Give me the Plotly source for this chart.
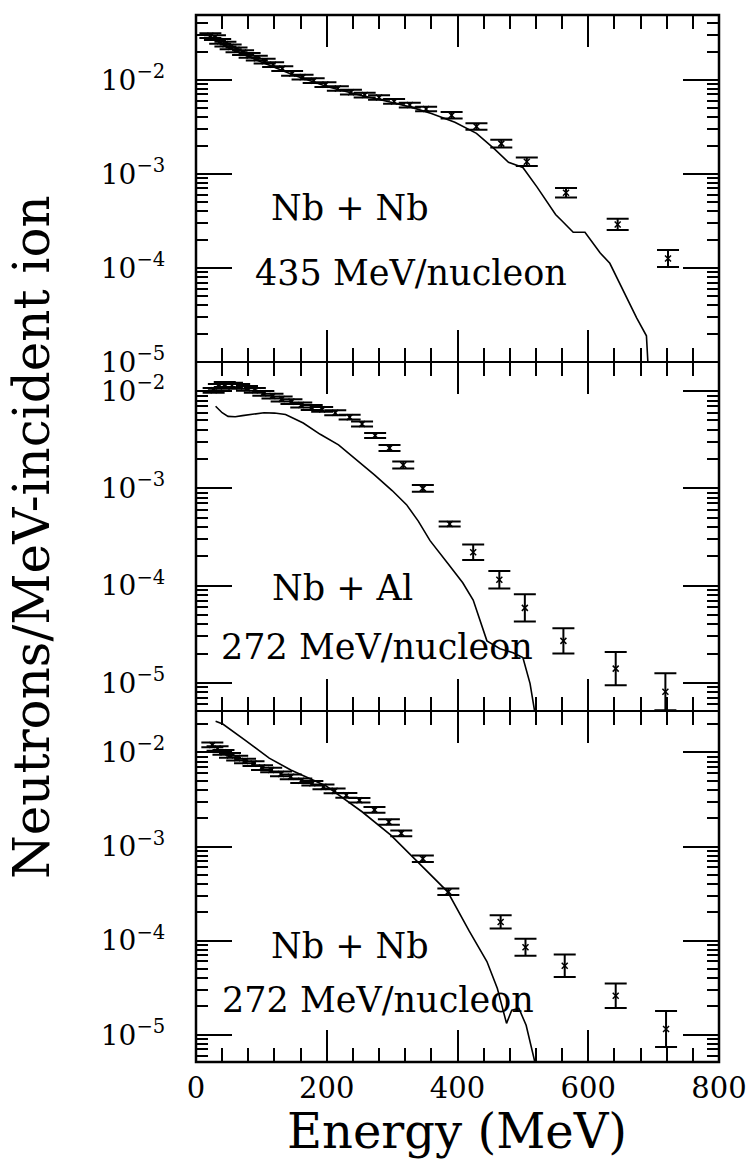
import plotly.graph_objects as go
from plotly.subplots import make_subplots

# ---------------- data ----------------
# Panel 1: Nb + Nb, 435 MeV/nucleon
p1_energy = [22, 29, 37, 45, 53, 62, 72, 82, 93, 105, 118, 132, 147, 163, 180, 198, 217, 237,
             258, 280, 303, 327, 352, 391, 429, 467, 506, 566, 645, 722]
p1_yield = [2.95e-2, 2.82e-2, 2.57e-2, 2.40e-2, 2.24e-2, 2.09e-2, 1.95e-2, 1.82e-2, 1.70e-2,
            1.58e-2, 1.45e-2, 1.32e-2, 1.17e-2, 1.07e-2, 9.8e-3, 8.9e-3, 8.1e-3, 7.4e-3,
            6.9e-3, 6.5e-3, 5.9e-3, 5.4e-3, 4.9e-3, 4.2e-3, 3.2e-3, 2.1e-3, 1.35e-3,
            6.3e-4, 2.9e-4, 1.26e-4]
p1_err_dex = [0.025] * 23 + [0.035, 0.035, 0.04, 0.045, 0.05, 0.06, 0.09]
p1_calc_energy = [40, 60, 100, 150, 200, 250, 300, 330, 360, 396, 429, 456, 478, 500, 522,
                  550, 560, 577, 595, 618, 633, 653, 674, 689, 692]
p1_calc_yield = [2.4e-2, 2.04e-2, 1.55e-2, 1.12e-2, 8.5e-3, 6.9e-3, 5.75e-3, 5.1e-3, 4.4e-3,
                 3.55e-3, 2.7e-3, 1.86e-3, 1.33e-3, 1.17e-3, 7.2e-4, 3.7e-4, 3.16e-4, 2.4e-4,
                 2.4e-4, 1.45e-4, 1.12e-4, 5.75e-5, 2.95e-5, 1.9e-5, 7.9e-6]

# Panel 2: Nb + Al, 272 MeV/nucleon
p2_energy = [27, 35, 44, 55, 66, 78, 90, 103, 117, 131, 146, 161, 177, 193, 213, 235, 254,
             274, 296, 317, 347, 388, 424, 464, 503, 562, 642, 718]
p2_yield = [1.02e-2, 1.12e-2, 1.17e-2, 1.15e-2, 1.12e-2, 1.07e-2, 1.02e-2, 9.5e-3, 8.9e-3,
            8.3e-3, 7.8e-3, 7.2e-3, 6.8e-3, 6.5e-3, 6.0e-3, 5.4e-3, 4.6e-3, 3.5e-3, 2.6e-3,
            1.74e-3, 1.0e-3, 4.3e-4, 2.2e-4, 1.15e-4, 5.9e-5, 2.7e-5, 1.4e-5, 8.1e-6]
p2_err_dex = [0.025] * 18 + [0.03, 0.035, 0.035, 0.025, 0.08, 0.09, 0.14, 0.13, 0.17, 0.19]
p2_calc_energy = [30, 40, 49, 60, 71, 85, 104, 120, 137, 164, 190, 218, 245, 273, 300, 322,
                  340, 358, 385, 408, 424, 445, 465, 485, 500, 511, 518, 521]
p2_calc_yield = [7.0e-3, 6.0e-3, 5.5e-3, 5.45e-3, 5.6e-3, 5.8e-3, 6.0e-3, 5.95e-3, 5.75e-3,
                 4.7e-3, 3.6e-3, 2.8e-3, 2.0e-3, 1.38e-3, 9.5e-4, 6.8e-4, 4.6e-4, 2.9e-4,
                 1.7e-4, 1.07e-4, 7.1e-5, 2.7e-5, 2.24e-5, 2.04e-5, 1.82e-5, 9.8e-6, 5.1e-6,
                 4.0e-6]

# Panel 3: Nb + Nb, 272 MeV/nucleon
p3_energy = [25, 33, 42, 52, 63, 75, 88, 101, 115, 130, 145, 161, 178, 195, 212, 230, 250,
             273, 295, 314, 347, 386, 466, 504, 564, 642, 719]
p3_yield = [1.20e-2, 1.10e-2, 1.00e-2, 9.3e-3, 8.7e-3, 8.1e-3, 7.6e-3, 6.9e-3, 6.5e-3, 5.9e-3,
            5.5e-3, 5.0e-3, 4.7e-3, 4.3e-3, 3.9e-3, 3.5e-3, 3.1e-3, 2.45e-3, 1.82e-3,
            1.38e-3, 7.4e-4, 3.3e-4, 1.58e-4, 8.5e-5, 5.4e-5, 2.6e-5, 1.15e-5]
p3_err_dex = [0.025] * 17 + [0.03, 0.03, 0.03, 0.035, 0.035, 0.07, 0.09, 0.12, 0.13, 0.19]
p3_calc_energy = [30, 41, 75, 112, 145, 199, 254, 298, 336, 385, 418, 445, 461, 470, 475, 483,
                  494, 505, 519, 522]
p3_calc_yield = [2.14e-2, 2.0e-2, 1.35e-2, 8.7e-3, 6.5e-3, 4.4e-3, 2.34e-3, 1.32e-3, 7.2e-4,
                 3.3e-4, 1.26e-4, 6.0e-5, 3.1e-5, 1.74e-5, 1.32e-5, 1.82e-5, 1.9e-5, 1.26e-5,
                 5.2e-6, 4.0e-6]

panel_system = ["Nb + Nb", "Nb + Al", "Nb + Nb"]
panel_beam = ["435 MeV/nucleon", "272 MeV/nucleon", "272 MeV/nucleon"]
y_log_ranges = [[-5.0, -1.31], [-5.29, -1.70], [-5.29, -1.56]]

y_tick_vals = [1e-5, 1e-4, 1e-3, 1e-2]
y_tick_text = ["10<sup>\u22125</sup>", "10<sup>\u22124</sup>", "10<sup>\u22123</sup>",
               "10<sup>\u22122</sup>"]
y_minor_vals = [m * 10.0 ** e for e in range(-6, -1) for m in range(2, 10)]

x_title = "Energy (MeV)"
y_title = "Neutrons/MeV-incident ion"

# ---------------- figure ----------------
FONT = "DejaVu Serif"
W, H = 747, 1161
L, R, T, B = 196, 28, 15, 99
plot_h = H - T - B
bounds_px = [15, 362, 711, 1062]


def py(ypix):
    return (H - B - ypix) / plot_h


def px(xpix):
    return (xpix - L) / (W - L - R)


fig = make_subplots(rows=3, cols=1, shared_xaxes=True, vertical_spacing=0)

panels = [
    (p1_energy, p1_yield, p1_err_dex, p1_calc_energy, p1_calc_yield),
    (p2_energy, p2_yield, p2_err_dex, p2_calc_energy, p2_calc_yield),
    (p3_energy, p3_yield, p3_err_dex, p3_calc_energy, p3_calc_yield),
]

for i, (e, y, d, ce, cy) in enumerate(panels):
    row = i + 1
    fig.add_trace(go.Scatter(x=ce, y=cy, mode="lines",
                             line=dict(color="black", width=1.6),
                             showlegend=False), row=row, col=1)
    plus = [v * (10 ** dd - 1) for v, dd in zip(y, d)]
    minus = [v * (1 - 10 ** (-dd)) for v, dd in zip(y, d)]
    fig.add_trace(go.Scatter(x=e, y=y, mode="markers",
                             marker=dict(symbol="x-thin", size=6, color="black",
                                         line=dict(color="black", width=1.5)),
                             error_y=dict(type="data", array=plus, arrayminus=minus,
                                          color="black", thickness=2, width=11),
                             showlegend=False), row=row, col=1)

for i in range(3):
    row = i + 1
    top = py(bounds_px[i])
    bot = py(bounds_px[i + 1])
    fig.update_yaxes(row=row, col=1, type="log", range=y_log_ranges[i],
                     domain=[max(bot, 0), min(top, 1)],
                     tickmode="array", tickvals=y_tick_vals, ticktext=y_tick_text,
                     ticks="inside", ticklen=36, tickwidth=2, tickcolor="black",
                     minor=dict(tickmode="array", tickvals=y_minor_vals, ticks="inside",
                                ticklen=12, tickwidth=2, tickcolor="black"),
                     mirror="allticks", showline=True, linewidth=1.2, linecolor="black",
                     showgrid=False, zeroline=False,
                     tickfont=dict(family=FONT, size=28, color="black"),
                     ticklabelstandoff=24)
    fig.update_xaxes(row=row, col=1, range=[0, 800],
                     tickmode="linear", tick0=0, dtick=200,
                     ticks="inside", ticklen=32, tickwidth=2, tickcolor="black",
                     minor=dict(tickmode="linear", tick0=0, dtick=40, ticks="inside",
                                ticklen=14, tickwidth=2, tickcolor="black"),
                     mirror="allticks", showline=True, linewidth=1.2, linecolor="black",
                     showgrid=False, zeroline=False,
                     showticklabels=(row == 3),
                     tickfont=dict(family=FONT, size=29, color="black"))

annotations = []
label_pos = [((350, 208), (411, 273)), ((342, 588), (377, 647)), ((350, 946), (378, 1000))]
for i in range(3):
    (sx, sy), (bx, byy) = label_pos[i]
    annotations.append(dict(text=panel_system[i], x=px(sx), y=py(sy), xref="paper",
                            yref="paper", showarrow=False, xanchor="center",
                            yanchor="middle",
                            font=dict(family=FONT, size=35, color="black")))
    annotations.append(dict(text=panel_beam[i], x=px(bx), y=py(byy), xref="paper",
                            yref="paper", showarrow=False, xanchor="center",
                            yanchor="middle",
                            font=dict(family=FONT, size=35, color="black")))

annotations.append(dict(text=x_title, x=px(457), y=py(1131), xref="paper", yref="paper",
                        showarrow=False, xanchor="center", yanchor="middle",
                        font=dict(family=FONT, size=48, color="black")))
annotations.append(dict(text=y_title, x=px(32), y=py(537), xref="paper", yref="paper",
                        showarrow=False, xanchor="center", yanchor="middle", textangle=-90,
                        font=dict(family=FONT, size=50, color="black")))

# outer frame
shapes = [dict(type="rect", xref="paper", yref="paper", x0=0, x1=1, y0=0, y1=1,
               line=dict(color="black", width=2.5), fillcolor="rgba(0,0,0,0)")]

fig.update_layout(width=W, height=H,
                  margin=dict(l=L, r=R, t=T, b=B, autoexpand=False),
                  paper_bgcolor="white", plot_bgcolor="white",
                  annotations=annotations, shapes=shapes, showlegend=False)

fig.write_html("out.html")
